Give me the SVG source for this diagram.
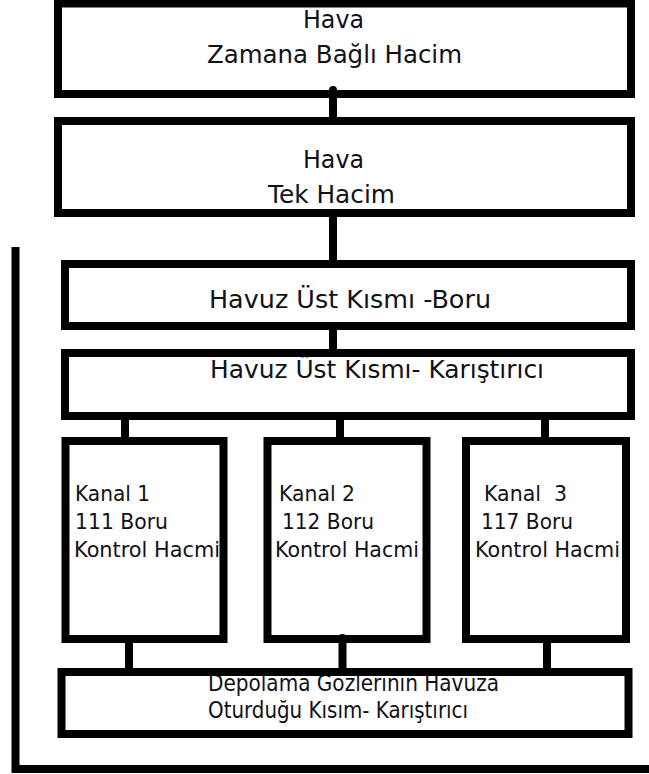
<svg xmlns="http://www.w3.org/2000/svg" width="649" height="774" viewBox="0 0 649 774">
  <style>
    .bg { fill: #ffffff; stroke: none; }
    .frame { fill: none; stroke: #000000; stroke-width: 8; }
    .wire { fill: none; stroke: #000000; stroke-width: 8; }
    .rnd { stroke-linecap: round; }
    text { font-family: "DejaVu Sans", "Liberation Sans", sans-serif; fill: #111118; }
    .t24 { font-size: 24px; }
    .t23 { font-size: 23px; }
    .t22 { font-size: 22px; }
  </style>
  <rect x="0" y="0" width="649" height="774" fill="#ffffff"/>

  <g id="node-hava-zaman">
    <rect class="bg" x="58" y="3.5" width="573" height="90.5"/>
    <text class="t24" x="303" y="28" textLength="61" lengthAdjust="spacingAndGlyphs">Hava</text>
    <text class="t24" x="207" y="63" textLength="255" lengthAdjust="spacingAndGlyphs">Zamana Bağlı Hacim</text>
    <rect class="frame" x="58" y="3.5" width="573" height="90.5"/>
  </g>

  <g id="node-hava-tek">
    <rect class="bg" x="58" y="121" width="573" height="92"/>
    <text class="t24" x="303" y="168" textLength="61" lengthAdjust="spacingAndGlyphs">Hava</text>
    <text class="t24" x="268" y="203" textLength="127" lengthAdjust="spacingAndGlyphs">Tek Hacim</text>
    <rect class="frame" x="58" y="121" width="573" height="92"/>
  </g>

  <g id="node-havuz-boru">
    <rect class="bg" x="65" y="264" width="566" height="62"/>
    <text class="t24" x="209" y="308" textLength="282" lengthAdjust="spacingAndGlyphs">Havuz Üst Kısmı -Boru</text>
    <rect class="frame" x="65" y="264" width="566" height="62"/>
  </g>

  <g id="node-havuz-karistirici">
    <rect class="bg" x="65" y="353" width="566" height="63"/>
    <text class="t24" x="210" y="378" textLength="334" lengthAdjust="spacingAndGlyphs">Havuz Üst Kısmı- Karıştırıcı</text>
    <rect class="frame" x="65" y="353" width="566" height="63"/>
  </g>

  <g id="node-kanal1">
    <rect class="bg" x="65.5" y="441" width="158" height="198"/>
    <text class="t22" x="75" y="501" textLength="75" lengthAdjust="spacingAndGlyphs">Kanal 1</text>
    <text class="t22" x="75" y="529" textLength="93" lengthAdjust="spacingAndGlyphs">111 Boru</text>
    <text class="t22" x="74" y="557" textLength="146" lengthAdjust="spacingAndGlyphs">Kontrol Hacmi</text>
    <rect class="frame" x="65.5" y="441" width="158" height="198"/>
  </g>

  <g id="node-kanal2">
    <rect class="bg" x="267.5" y="441" width="159" height="198"/>
    <text class="t22" x="279" y="501" textLength="76" lengthAdjust="spacingAndGlyphs">Kanal 2</text>
    <text class="t22" x="282" y="529" textLength="92" lengthAdjust="spacingAndGlyphs">112 Boru</text>
    <text class="t22" x="275" y="557" textLength="144" lengthAdjust="spacingAndGlyphs">Kontrol Hacmi</text>
    <rect class="frame" x="267.5" y="441" width="159" height="198"/>
  </g>

  <g id="node-kanal3">
    <rect class="bg" x="466" y="441" width="160" height="198"/>
    <text class="t22" x="484" y="501" textLength="83" lengthAdjust="spacingAndGlyphs" xml:space="preserve">Kanal  3</text>
    <text class="t22" x="481" y="529" textLength="92" lengthAdjust="spacingAndGlyphs">117 Boru</text>
    <text class="t22" x="475" y="557" textLength="145" lengthAdjust="spacingAndGlyphs">Kontrol Hacmi</text>
    <rect class="frame" x="466" y="441" width="160" height="198"/>
  </g>

  <g id="node-depolama">
    <rect class="bg" x="61.5" y="672" width="567" height="62"/>
    <text class="t23" x="208" y="691" textLength="291" lengthAdjust="spacingAndGlyphs">Depolama Gözlerinin Havuza</text>
    <text class="t23" x="208" y="718" textLength="260" lengthAdjust="spacingAndGlyphs">Oturduğu Kısım- Karıştırıcı</text>
    <rect class="frame" x="61.5" y="672" width="567" height="62"/>
  </g>

  <g id="connectors">
    <line class="wire rnd" x1="333" y1="90" x2="333" y2="121"/>
    <line class="wire" x1="333" y1="213" x2="333" y2="267"/>
    <line class="wire" x1="333" y1="326" x2="333" y2="353"/>
    <line class="wire" x1="125" y1="416" x2="125" y2="444"/>
    <line class="wire" x1="340" y1="416" x2="340" y2="441"/>
    <line class="wire" x1="545" y1="416" x2="545" y2="444"/>
    <line class="wire" x1="129" y1="639" x2="129" y2="672"/>
    <line class="wire rnd" x1="342.5" y1="638" x2="342.5" y2="672"/>
    <line class="wire" x1="547" y1="639" x2="547" y2="672"/>
    <path class="wire" d="M15.5 247 V769 H649"/>
  </g>
</svg>
